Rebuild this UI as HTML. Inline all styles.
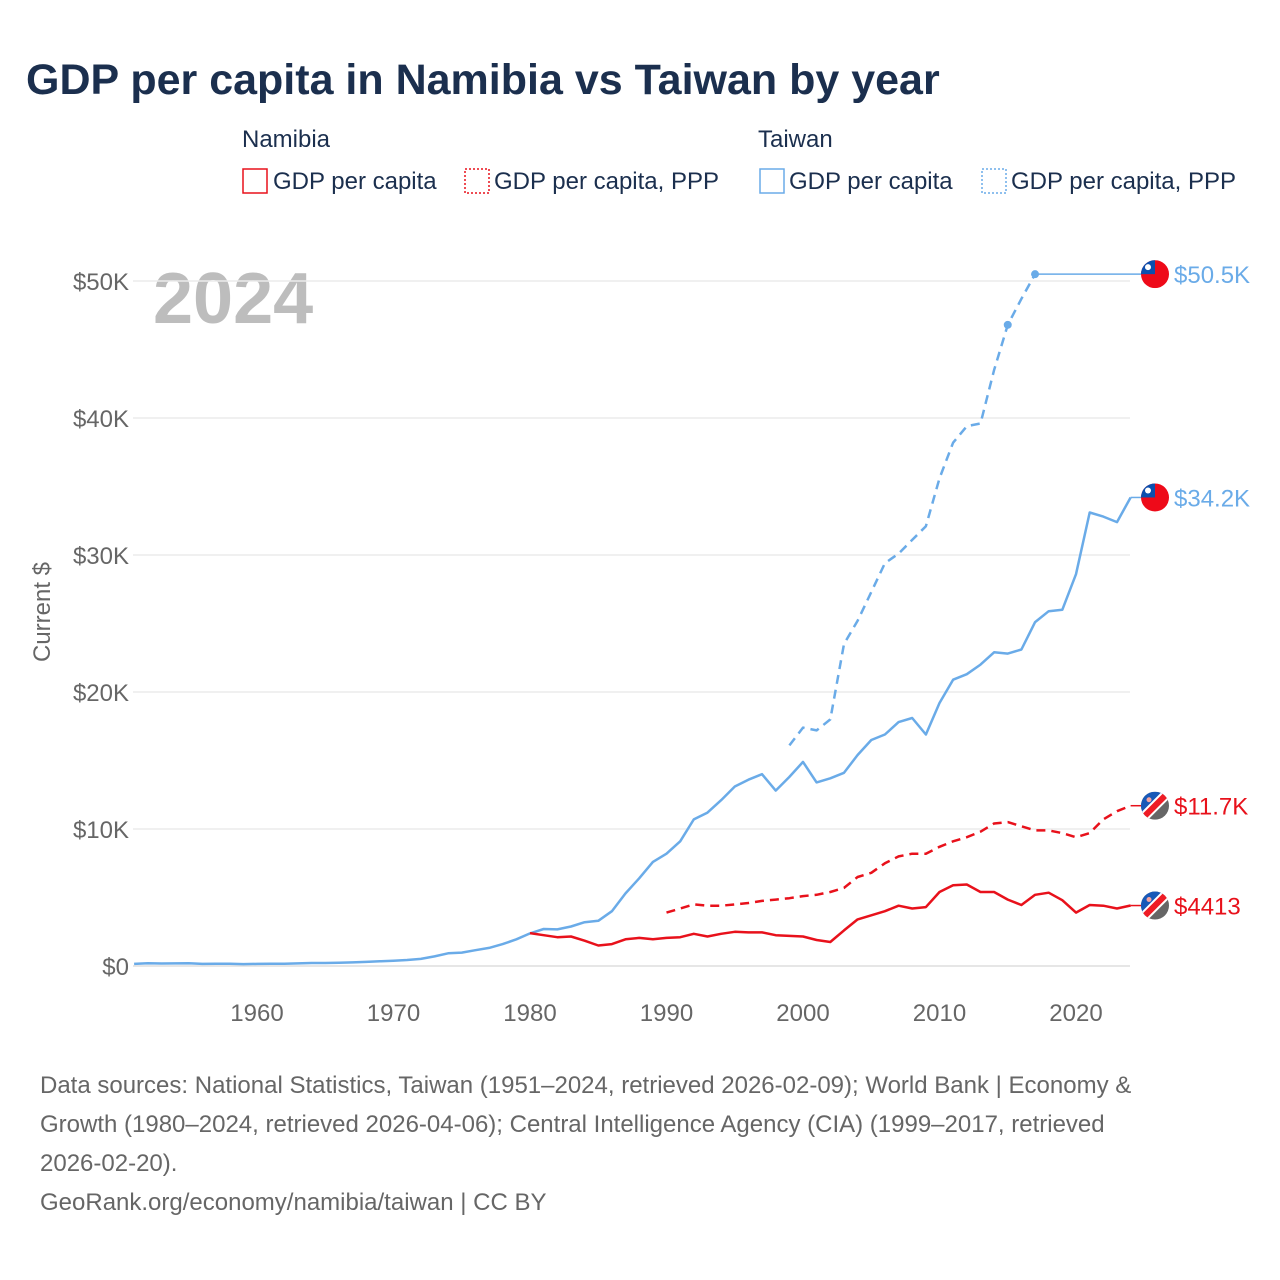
<!DOCTYPE html>
<html><head><meta charset="utf-8"><style>
body{margin:0;background:#fff;font-family:"Liberation Sans",sans-serif;}
#wrap{position:relative;width:1280px;height:1280px;overflow:hidden;}
</style></head><body>
<div id="wrap">
<svg id="chart" width="1280" height="1280" xmlns="http://www.w3.org/2000/svg">
<defs>
<clipPath id="cc"><circle cx="0" cy="0" r="14"/></clipPath>
</defs>
<text x="26" y="94" font-size="43" font-weight="bold" fill="#1b2f4e">GDP per capita in Namibia vs Taiwan by year</text>
<g font-size="24" fill="#1b2f4e">
<text x="242" y="147">Namibia</text>
<text x="758" y="147">Taiwan</text>
<g><rect x="243" y="169" width="24" height="24" fill="none" stroke="#e8111b" stroke-width="1.5"/><text x="273" y="189">GDP per capita</text></g>
<g><rect x="465" y="169" width="24" height="24" fill="none" stroke="#e8111b" stroke-width="1.5" stroke-dasharray="2 2"/><text x="494" y="189">GDP per capita, PPP</text></g>
<g><rect x="760" y="169" width="24" height="24" fill="none" stroke="#6aabe8" stroke-width="1.5"/><text x="789" y="189">GDP per capita</text></g>
<g><rect x="982" y="169" width="24" height="24" fill="none" stroke="#6aabe8" stroke-width="1.5" stroke-dasharray="2 2"/><text x="1011" y="189">GDP per capita, PPP</text></g>
</g>
<text x="153" y="323" font-size="72" font-weight="bold" fill="#bdbdbd">2024</text>
<text transform="translate(50,612) rotate(-90)" text-anchor="middle" font-size="24" fill="#666">Current $</text>
<g id="grid"></g><g id="series"></g><g id="ends"></g>
<g font-size="24" fill="#666">
<text x="40" y="1093">Data sources: National Statistics, Taiwan (1951–2024, retrieved 2026-02-09); World Bank | Economy &amp;</text>
<text x="40" y="1132">Growth (1980–2024, retrieved 2026-04-06); Central Intelligence Agency (CIA) (1999–2017, retrieved</text>
<text x="40" y="1171">2026-02-20).</text>
<text x="40" y="1210">GeoRank.org/economy/namibia/taiwan | CC BY</text>
</g>
</svg>
</div>
<script>
const yTicks=[0,10000,20000,30000,40000,50000];
const yTickLabels=["$0","$10K","$20K","$30K","$40K","$50K"];
const xTicks=[1960,1970,1980,1990,2000,2010,2020];
const twYears=[1951,1952,1953,1954,1955,1956,1957,1958,1959,1960,1961,1962,1963,1964,1965,1966,1967,1968,1969,1970,1971,1972,1973,1974,1975,1976,1977,1978,1979,1980,1981,1982,1983,1984,1985,1986,1987,1988,1989,1990,1991,1992,1993,1994,1995,1996,1997,1998,1999,2000,2001,2002,2003,2004,2005,2006,2007,2008,2009,2010,2011,2012,2013,2014,2015,2016,2017,2018,2019,2020,2021,2022,2023,2024];
const twGdp=[150,200,180,190,200,150,160,170,140,150,160,170,190,220,220,240,260,300,340,390,440,520,700,930,980,1150,1320,1600,1950,2380,2700,2670,2880,3200,3300,4000,5300,6400,7600,8200,9100,10700,11200,12100,13100,13600,14000,12800,13800,14900,13400,13700,14100,15400,16500,16900,17800,18100,16900,19200,20900,21300,22000,22900,22800,23100,25100,25900,26000,28600,33100,32800,32400,34200];
const twPppYears=[1999,2000,2001,2002,2003,2004,2005,2006,2007,2008,2009,2010,2011,2012,2013,2014,2015,2016,2017];
const twPpp=[16100,17400,17200,18000,23500,25200,27300,29400,30100,31100,32100,35600,38200,39400,39600,43500,46800,48700,50500];
const naYears=[1980,1981,1982,1983,1984,1985,1986,1987,1988,1989,1990,1991,1992,1993,1994,1995,1996,1997,1998,1999,2000,2001,2002,2003,2004,2005,2006,2007,2008,2009,2010,2011,2012,2013,2014,2015,2016,2017,2018,2019,2020,2021,2022,2023,2024];
const naGdp=[2400,2250,2100,2150,1850,1500,1600,1950,2050,1950,2050,2100,2350,2150,2350,2500,2450,2450,2250,2200,2150,1900,1750,2600,3400,3700,4000,4400,4200,4300,5400,5900,5950,5400,5400,4850,4450,5200,5350,4800,3900,4450,4400,4200,4413];
const naPppYears=[1990,1991,1992,1993,1994,1995,1996,1997,1998,1999,2000,2001,2002,2003,2004,2005,2006,2007,2008,2009,2010,2011,2012,2013,2014,2015,2016,2017,2018,2019,2020,2021,2022,2023,2024];
const naPpp=[3900,4200,4500,4400,4400,4500,4600,4750,4850,4950,5100,5200,5400,5700,6500,6800,7500,8000,8200,8200,8700,9100,9400,9800,10400,10500,10200,9900,9900,9700,9400,9700,10700,11300,11700];
const endLabels=["$50.5K","$34.2K","$11.7K","$4413"];

const X=y=>257+(y-1960)*13.65;
const Y=v=>966-v*0.0137;
const NS="http://www.w3.org/2000/svg";
function mk(tag,attrs,parent){const e=document.createElementNS(NS,tag);for(const k in attrs)e.setAttribute(k,attrs[k]);parent.appendChild(e);return e;}
const grid=document.getElementById('grid'),ser=document.getElementById('series'),ends=document.getElementById('ends');
yTicks.forEach((t,i)=>{
  const l=mk('line',{x1:133,x2:1130,y1:Y(t),y2:Y(t),stroke:t===0?'#ddd':'#ebebeb','stroke-width':1.5},grid);
  
  
  const tx=mk('text',{x:129,y:Y(t)+9,'text-anchor':'end','font-size':24,fill:'#666'},grid);
  tx.textContent=yTickLabels[i];
  
  
});
xTicks.forEach(t=>{
  const tx=mk('text',{x:X(t),y:1021,'text-anchor':'middle','font-size':24,fill:'#666'},grid);
  tx.textContent=t;
  
  
});
function line(xs,vs,color,dash,name){
  const d=xs.map((y,i)=>(i?'L':'M')+X(y).toFixed(1)+','+Y(vs[i]).toFixed(1)).join('');
  const p=mk('path',{d:d,fill:'none',stroke:color,'stroke-width':2.5,'stroke-linejoin':'round'},ser);
  if(dash)p.setAttribute('stroke-dasharray','9 6');
  
  
}
const BLUE='#6aabe8',RED='#e8111b';
line(twYears,twGdp,BLUE,false,'taiwan-gdp-line');
line(twPppYears,twPpp,BLUE,true,'taiwan-ppp-line');
line(naYears,naGdp,RED,false,'namibia-gdp-line');
line(naPppYears,naPpp,RED,true,'namibia-ppp-line');
[[2015,twPpp[16]],[2017,twPpp[18]]].forEach(p=>{
  const c=mk('circle',{cx:X(p[0]),cy:Y(p[1]),r:4,fill:BLUE},ser);
  
  
});
const lastVals=[twPpp[twPpp.length-1],twGdp[twGdp.length-1],naPpp[naPpp.length-1],naGdp[naGdp.length-1]];
const lastX=[X(2017),X(2024),X(2024),X(2024)];
const isTw=[true,true,false,false];
lastVals.forEach((v,i)=>{
  const cy=Y(v),cx=1155,col=isTw[i]?BLUE:RED;
  const ln=mk('line',{x1:lastX[i],x2:cx-14,y1:cy,y2:cy,stroke:col,'stroke-width':1.5},ends);
  
  
  const g=mk('g',{transform:'translate('+cx+','+cy+')'},ends);
  
  
  const gi=mk('g',{'clip-path':'url(#cc)'},g);
  if(isTw[i]){
    mk('rect',{x:-14,y:-14,width:28,height:28,fill:'#ee0a19'},gi);
    mk('rect',{x:-14,y:-14,width:14,height:14,fill:'#0b4fae'},gi);
    mk('circle',{cx:-7,cy:-7,r:3,fill:'#fff'},gi);
  }else{
    mk('rect',{x:-14,y:-14,width:28,height:28,fill:'#666'},gi);
    mk('polygon',{points:'-14,-14 14,-14 -14,14',fill:'#1859b8'},gi);
    mk('line',{x1:-16,y1:16,x2:16,y2:-16,stroke:'#fff','stroke-width':10},gi);
    mk('line',{x1:-16,y1:16,x2:16,y2:-16,stroke:'#ee1c25','stroke-width':6},gi);
    mk('circle',{cx:-6,cy:-6,r:2.5,fill:'#f4a3a0'},gi);
  }
  const t=mk('text',{x:1174,y:cy+9,'font-size':24,fill:col},ends);
  t.textContent=endLabels[i];
  
  
});
</script>
</body></html>
